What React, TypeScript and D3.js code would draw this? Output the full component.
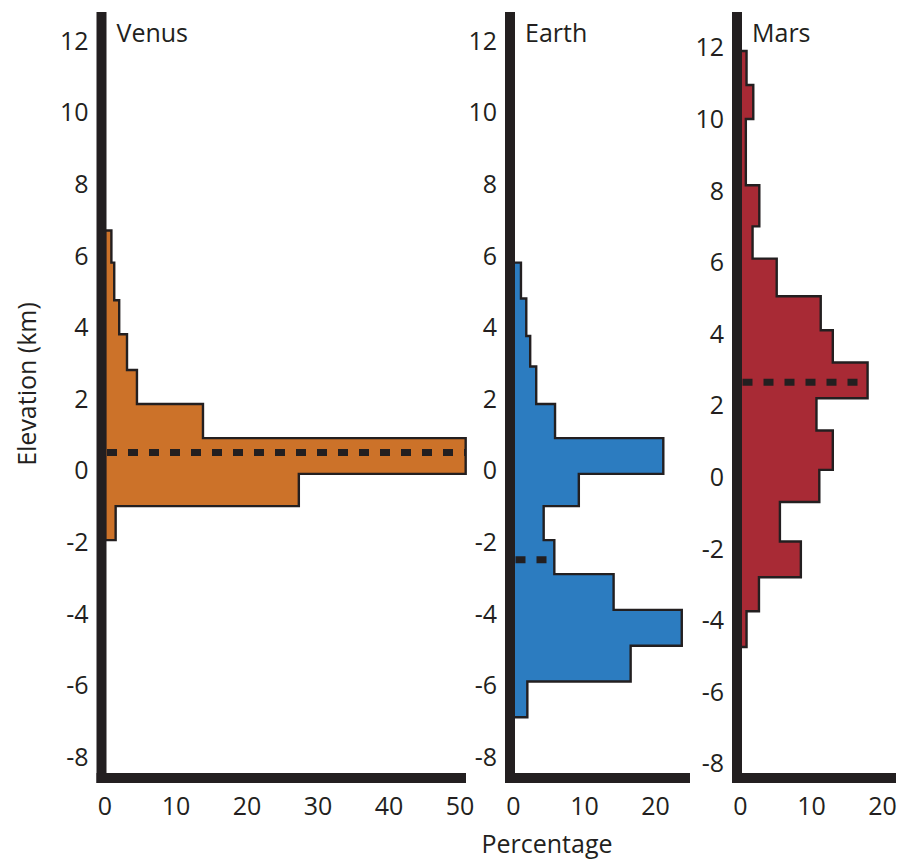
import React from "react";
import * as d3 from "d3";

// elevation bin edges (km, top to bottom) and % of surface in each bin
const venusEdges = [6.7, 5.8, 4.75, 3.8, 2.8, 1.85, 0.9, -0.1, -1.0, -1.95];
const venusPct = [0.9, 1.3, 2.0, 3.1, 4.5, 13.8, 50.8, 27.3, 1.5];
const earthEdges = [5.8, 4.8, 3.75, 2.9, 1.85, 0.9, -0.1, -1.0, -1.95, -2.9, -3.9, -4.9, -5.9, -6.9];
const earthPct = [1.05, 1.8, 2.35, 3.2, 5.85, 21.1, 9.2, 4.25, 5.75, 14.1, 23.7, 16.5, 1.95];
const marsEdges = [11.9, 10.95, 10.0, 8.15, 7.0, 6.1, 5.05, 4.1, 3.2, 2.2, 1.3, 0.2, -0.7, -1.8, -2.8, -3.75, -4.75];
const marsPct = [0.85, 1.8, 0.75, 2.65, 1.7, 5.1, 11.3, 13.0, 17.9, 10.7, 13.0, 11.1, 5.55, 8.5, 2.6, 0.85];

// mean elevation (dashed line)
const venusMean = 0.5;
const earthMean = -2.5;
const marsMean = 2.65;

const elevTicks = [-8, -6, -4, -2, 0, 2, 4, 6, 8, 10, 12];
const venusPctTicks = [0, 10, 20, 30, 40, 50];
const earthPctTicks = [0, 10, 20];
const marsPctTicks = [0, 10, 20];

const INK = "#231f20";
const FONT = "'Open Sans', sans-serif";
const PX_PER_PCT = 7.1;
const PX_PER_KM = 35.8;

const panels = [
  { name: "Venus", edges: venusEdges, pct: venusPct, mean: venusMean, ticks: venusPctTicks, max: 50, fill: "#cc7229", axisX: 101.5, y0: 470.3, axisEnd: 466 },
  { name: "Earth", edges: earthEdges, pct: earthPct, mean: earthMean, ticks: earthPctTicks, max: 20, fill: "#2c7cc0", axisX: 510, y0: 470.3, axisEnd: 690 },
  { name: "Mars", edges: marsEdges, pct: marsPct, mean: marsMean, ticks: marsPctTicks, max: 20, fill: "#a82a35", axisX: 737, y0: 477, axisEnd: 896 },
];

function Panel({ p }: { p: any }) {
  const x0 = p.axisX + 3.5;
  const x = d3.scaleLinear().domain([0, p.max]).range([x0, x0 + p.max * PX_PER_PCT]);
  const y = d3.scaleLinear().domain([-8, 12]).range([p.y0 + 8 * PX_PER_KM, p.y0 - 12 * PX_PER_KM]);

  // step outline around the histogram
  const pts: [number, number][] = [[x(0), y(p.edges[0])]];
  p.pct.forEach((v: number, i: number) => {
    pts.push([x(v), y(p.edges[i])]);
    pts.push([x(v), y(p.edges[i + 1])]);
  });
  pts.push([x(0), y(p.edges[p.edges.length - 1])]);
  const path = d3.line()(pts) + "Z";

  const idx = p.edges.findIndex((e: number, i: number) => i < p.pct.length && e >= p.mean && p.edges[i + 1] < p.mean);
  const meanVal = p.pct[idx];

  return (
    <g>
      <path d={path} fill={p.fill} stroke={INK} strokeWidth={2.4} strokeLinejoin="miter" />
      <line x1={x(0) + 2} x2={x(meanVal)} y1={y(p.mean)} y2={y(p.mean)} stroke={INK} strokeWidth={7} strokeDasharray="10 11" />
      <line x1={p.axisX} x2={p.axisX} y1={12} y2={783} stroke={INK} strokeWidth={10} />
      <line x1={p.axisX - 5} x2={p.axisEnd} y1={778} y2={778} stroke={INK} strokeWidth={10} />
      {elevTicks.map((t) => (
        <text key={t} x={p.axisX - 13} y={y(t)} dy="0.36em" textAnchor="end" fontSize={25} fill={INK} fontFamily={FONT}>
          {t}
        </text>
      ))}
      {p.ticks.map((t: number) => (
        <text key={t} x={x(t)} y={815} textAnchor="middle" fontSize={25} fill={INK} fontFamily={FONT}>
          {t}
        </text>
      ))}
      <text x={p.axisX + 15} y={42} fontSize={25} fill={INK} fontFamily={FONT}>
        {p.name}
      </text>
    </g>
  );
}

export default function App() {
  return (
    <svg width={908} height={862} style={{ position: "absolute", left: 0, top: 0, background: "#fff" }}>
      {panels.map((p) => (
        <Panel key={p.name} p={p} />
      ))}
      <text x={547} y={853} textAnchor="middle" fontSize={25} fill={INK} fontFamily={FONT}>
        Percentage
      </text>
      <text transform="translate(36,384) rotate(-90)" textAnchor="middle" fontSize={25} fill={INK} fontFamily={FONT}>
        Elevation (km)
      </text>
    </svg>
  );
}
